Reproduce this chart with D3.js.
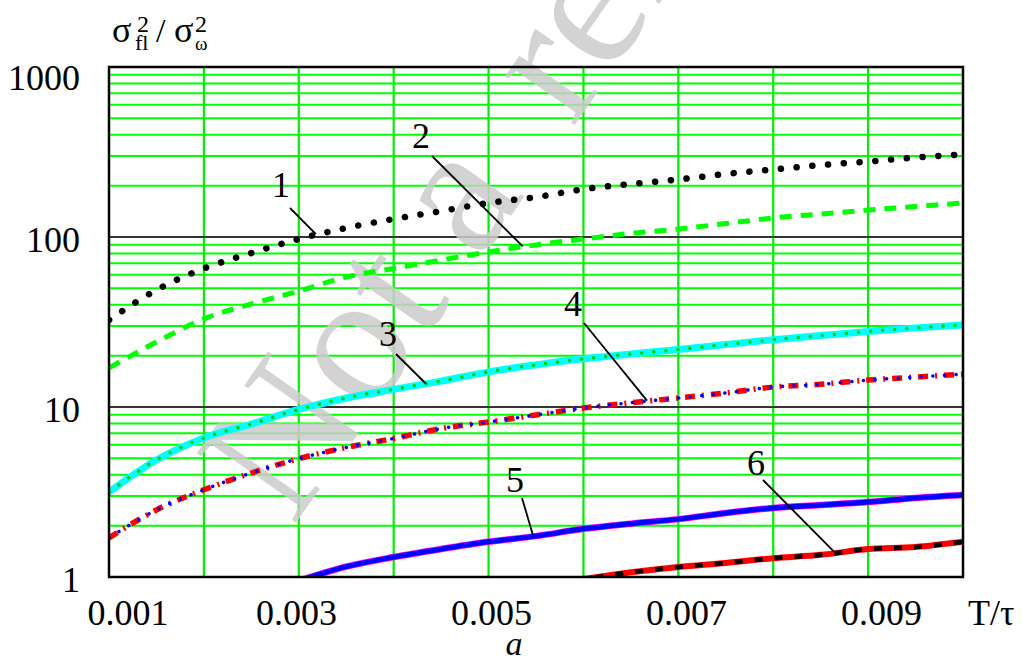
<!DOCTYPE html>
<html>
<head>
<meta charset="utf-8">
<script src="https://cdn.jsdelivr.net/npm/d3@7"></script>
<style>
  html, body { margin: 0; padding: 0; background: #fff; }
  svg { display: block; }
  text { font-family: "Liberation Serif", "Times New Roman", serif; fill: #000; }
</style>
</head>
<body>
<div id="chart"></div>
<script>
// T/tau values where the curves were read
const aVals = [0.001, 0.0015, 0.002, 0.0025, 0.003, 0.0035, 0.004, 0.0045, 0.005, 0.0055,
               0.006, 0.0065, 0.007, 0.0075, 0.008, 0.0085, 0.009, 0.0095, 0.01];
const curve1 = [32.5, 48.8, 65.3, 80.5, 97.3, 113, 127.6, 142, 158.6, 171.7, 191, 205, 218, 235, 249.6, 265, 278, 293.6, 305.6];
const curve2 = [17, 24.1, 33, 40.4, 48.1, 58.2, 65.3, 73.2, 81.6, 89.8, 97.3, 105, 111.4, 120, 129.4, 136.5, 144, 151, 158.6];
const curve3 = [3.16, 4.88, 6.57, 7.94, 9.67, 11.3, 12.7, 14.2, 16.1, 17.7, 19.2, 20.5, 21.8, 23.3, 24.9, 26.3, 27.8, 29.2, 30.4];
const curve4 = [1.70, 2.48, 3.26, 4.09, 4.97, 5.78, 6.53, 7.47, 8.16, 8.98, 9.86, 10.6, 11.3, 12.1, 13.1, 13.6, 14.4, 15.0, 15.6];
// curves 5 and 6 only enter the plot further right
const aVals5 = [0.003, 0.0035, 0.004, 0.0045, 0.005, 0.0055, 0.006, 0.0065, 0.007, 0.0075, 0.008, 0.0085, 0.009, 0.0095, 0.01];
const curve5 = [0.95, 1.15, 1.31, 1.46, 1.61, 1.74, 1.92, 2.06, 2.19, 2.38, 2.55, 2.65, 2.76, 2.92, 3.04];
const aVals6 = [0.0055, 0.006, 0.0065, 0.007, 0.0075, 0.008, 0.0085, 0.009, 0.0095, 0.01];
const curve6 = [0.9, 0.975, 1.065, 1.145, 1.21, 1.29, 1.35, 1.46, 1.50, 1.61];

const xTicks = [0.001, 0.003, 0.005, 0.007, 0.009];
const xTickLabels = ['0.001', '0.003', '0.005', '0.007', '0.009'];
const xGrid = [0.002, 0.003, 0.004, 0.005, 0.006, 0.007, 0.008, 0.009];
const yTicks = [1, 10, 100, 1000];
const yTickLabels = ['1', '10', '100', '1000'];
const yMinor = [2, 3, 4, 5, 6, 7, 8, 9, 20, 30, 40, 50, 60, 70, 80, 90, 200, 300, 400, 500, 600, 700, 800, 900];

// curve labels: number, point on curve (a, value), label position, leader start
const curveLabels = [
  { t: '1', a: 0.00318, v: 104, lx: 281, ly: 197, sx: 290, sy: 208 },
  { t: '2', a: 0.00536, v: 88,  lx: 421, ly: 148, sx: 432, sy: 156 },
  { t: '3', a: 0.00434, v: 13.7, lx: 388, ly: 346, sx: 396, sy: 354 },
  { t: '4', a: 0.00667, v: 10.9, lx: 573, ly: 316, sx: 584, sy: 323 },
  { t: '5', a: 0.00547, v: 1.75, lx: 515, ly: 492, sx: 522, sy: 498 },
  { t: '6', a: 0.00864, v: 1.41, lx: 756, ly: 475, sx: 763, sy: 480 }
];

const W = 1022, H = 661;
const plot = { left: 109, top: 67, right: 963, bottom: 577 };

const svg = d3.select('#chart').append('svg').attr('width', W).attr('height', H);

const x = d3.scaleLinear().domain([0.001, 0.01]).range([plot.left, plot.right]);
const y = d3.scaleLog().domain([1, 1000]).range([plot.bottom, plot.top]);

svg.append('defs').append('clipPath').attr('id', 'clip')
  .append('rect')
  .attr('x', plot.left).attr('y', plot.top)
  .attr('width', plot.right - plot.left).attr('height', plot.bottom - plot.top);

// grid
const grid = svg.append('g');
grid.selectAll('line.hmin').data(yMinor).enter().append('line')
  .attr('x1', plot.left).attr('x2', plot.right)
  .attr('y1', d => y(d)).attr('y2', d => y(d))
  .attr('stroke', '#00ff00').attr('stroke-width', 2);
grid.selectAll('line.v').data(xGrid).enter().append('line')
  .attr('x1', d => x(d)).attr('x2', d => x(d))
  .attr('y1', plot.top).attr('y2', plot.bottom)
  .attr('stroke', '#00ee00').attr('stroke-width', 2.2);
grid.selectAll('line.hmaj').data([10, 100]).enter().append('line')
  .attr('x1', plot.left).attr('x2', plot.right)
  .attr('y1', d => y(d)).attr('y2', d => y(d))
  .attr('stroke', '#333').attr('stroke-width', 2);

// watermark
const wm = svg.append('text')
  .attr('transform', 'translate(293,527) rotate(-55)')
  .attr('font-size', 185)
  .style('fill', '#cccccc')
  .attr('opacity', 0.85);
wm.append('tspan').text('Not a');
wm.append('tspan').attr('dx', 35).text(' reference');

// curves
const line = d3.line().x(d => x(d[0])).y(d => y(d[1])).curve(d3.curveMonotoneX);
const pts = (xs, ys) => xs.map((a, i) => [a, ys[i]]);
const curves = svg.append('g').attr('clip-path', 'url(#clip)');

function draw(data, stroke, width, dash, cap) {
  curves.append('path')
    .attr('d', line(data))
    .attr('fill', 'none')
    .attr('stroke', stroke)
    .attr('stroke-width', width)
    .attr('stroke-dasharray', dash || null)
    .attr('stroke-linecap', cap || 'butt')
    .attr('stroke-linejoin', 'round');
}

// 1: black dots
draw(pts(aVals, curve1), '#000', 6.5, '0.1 15.7', 'round');
// 2: green dashes
draw(pts(aVals, curve2), '#00ff00', 5, '12 9');
// 3: cyan with green dots
draw(pts(aVals, curve3), '#00ffff', 7);
draw(pts(aVals, curve3), '#00cc00', 3.5, '0.1 12', 'round');
// 4: red dash-dot with blue dots
draw(pts(aVals, curve4), '#ff0000', 5.5, '10 7 2 7');
draw(pts(aVals, curve4), '#0000ff', 3.5, '0.1 11.5', 'round');
// 5: blue solid
draw(pts(aVals5, curve5), '#ff00ff', 6.5);
draw(pts(aVals5, curve5), '#0000ff', 5);
// 6: red with black dashes
draw(pts(aVals6, curve6), '#ff0000', 6);
draw(pts(aVals6, curve6), '#000', 4.5, '8 12');

// frame
svg.append('rect')
  .attr('x', plot.left).attr('y', plot.top)
  .attr('width', plot.right - plot.left).attr('height', plot.bottom - plot.top)
  .attr('fill', 'none').attr('stroke', '#000').attr('stroke-width', 2.5);

// curve labels with leader lines
const lab = svg.append('g');
curveLabels.forEach(c => {
  lab.append('line')
    .attr('x1', c.sx).attr('y1', c.sy)
    .attr('x2', x(c.a)).attr('y2', y(c.v))
    .attr('stroke', '#000').attr('stroke-width', 1.8);
  lab.append('text')
    .attr('x', c.lx).attr('y', c.ly)
    .attr('text-anchor', 'middle')
    .attr('font-size', 36)
    .text(c.t);
});

// y tick labels
svg.append('g').selectAll('text').data(yTicks).enter().append('text')
  .attr('x', 80)
  .attr('y', d => Math.max(y(d) + 15, 90))
  .attr('text-anchor', 'end')
  .attr('font-size', 36)
  .text((d, i) => yTickLabels[i]);

// x tick labels (Mathcad spreads them a bit wider than the grid)
const xLab = d3.scaleLinear().domain([0.003, 0.009]).range([296.5, 881.5]);
svg.append('g').selectAll('text').data(xTicks).enter().append('text')
  .attr('x', d => Math.max(xLab(d), 128))
  .attr('y', 625)
  .attr('text-anchor', 'middle')
  .attr('font-size', 36)
  .text((d, i) => xTickLabels[i]);

svg.append('text').attr('x', 968).attr('y', 625).attr('font-size', 36).text('T/\u03c4');
svg.append('text').attr('x', 514).attr('y', 655).attr('text-anchor', 'middle')
  .attr('font-size', 34).attr('font-style', 'italic').text('a');

// y axis title: sigma_fl^2 / sigma_omega^2
const title = svg.append('text');
title.append('tspan').attr('x', 112).attr('y', 42).attr('font-size', 36).text('\u03c3');
title.append('tspan').attr('x', 137).attr('y', 32).attr('font-size', 24).text('2');
title.append('tspan').attr('x', 135).attr('y', 50).attr('font-size', 22).text('fl');
title.append('tspan').attr('x', 156).attr('y', 42).attr('font-size', 34).text('/');
title.append('tspan').attr('x', 174).attr('y', 42).attr('font-size', 36).text('\u03c3');
title.append('tspan').attr('x', 195).attr('y', 32).attr('font-size', 24).text('2');
title.append('tspan').attr('x', 195).attr('y', 50).attr('font-size', 19).text('\u03c9');
</script>
</body>
</html>
